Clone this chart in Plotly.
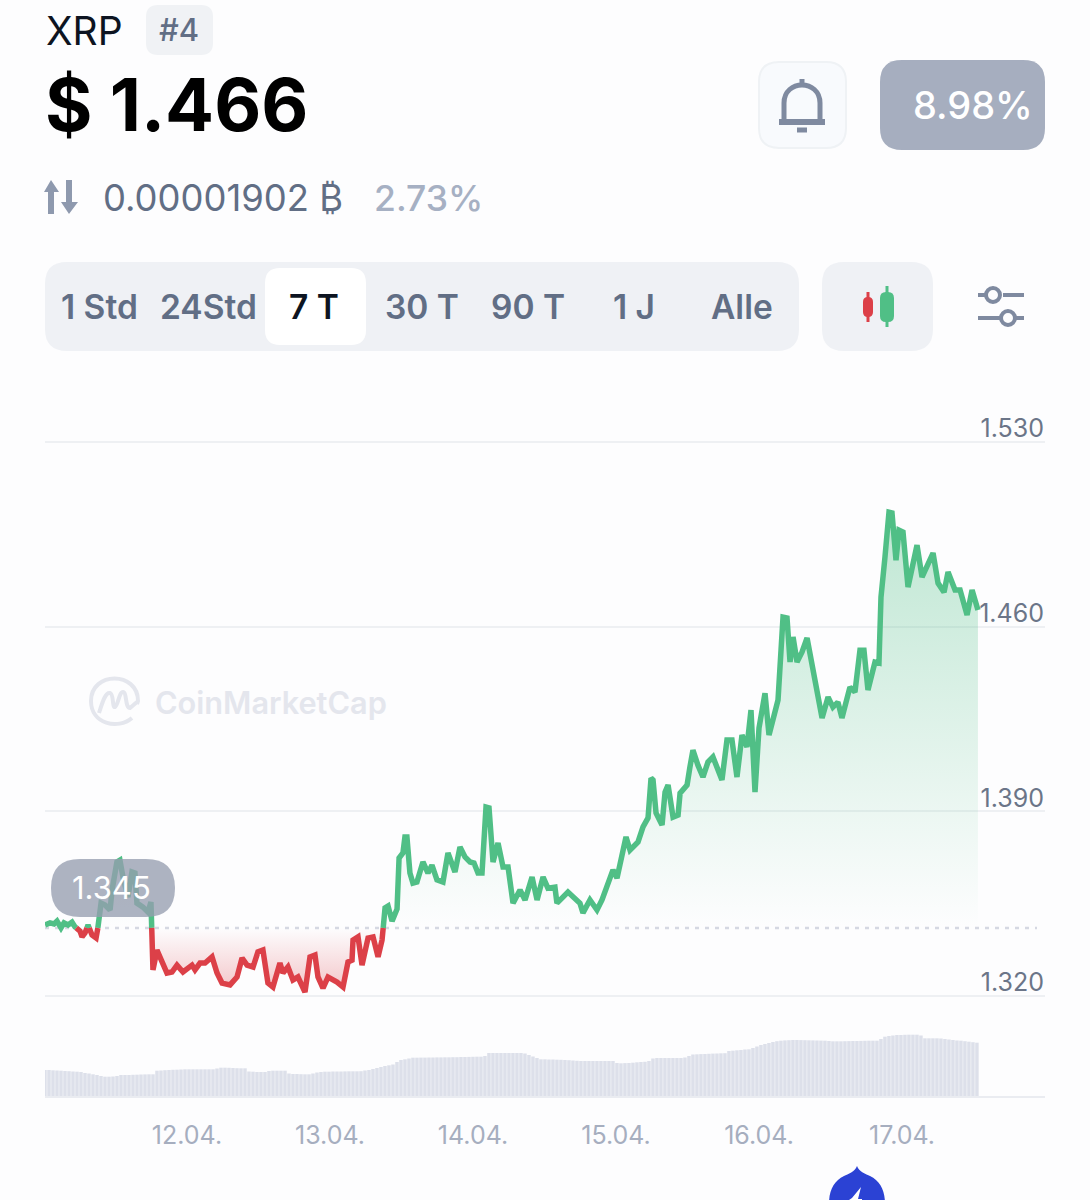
import numpy as np
import plotly.graph_objects as go

# ---- data ----
days = [11.007,11.042,11.070,11.091,11.119,11.140,11.168,11.196,11.217,11.252,11.266,11.287,11.308,11.336,11.364,11.378,11.399,11.427,11.462,11.476,
11.510,11.531,11.552,11.587,11.615,11.636,11.650,11.692,11.727,11.748,11.762,11.790,11.825,11.860,11.895,11.930,11.972,12.035,12.056,12.091,
12.126,12.175,12.210,12.245,12.301,12.350,12.385,12.420,12.462,12.496,12.531,12.566,12.601,12.650,12.671,12.706,12.741,12.776,12.825,12.860,
12.895,12.916,12.951,12.986,13.049,13.091,13.126,13.154,13.161,13.196,13.224,13.266,13.301,13.336,13.364,13.385,13.406,13.434,13.469,13.483,
13.510,13.524,13.538,13.559,13.580,13.608,13.650,13.685,13.713,13.748,13.790,13.825,13.874,13.909,13.944,13.979,14.007,14.035,14.063,14.091,
14.112,14.140,14.175,14.210,14.245,14.280,14.329,14.364,14.413,14.448,14.490,14.524,14.573,14.587,14.629,14.664,14.748,14.769,14.818,14.867,
14.902,14.958,14.979,15.007,15.042,15.070,15.098,15.154,15.189,15.224,15.245,15.259,15.280,15.322,15.343,15.364,15.399,15.434,15.448,15.497,
15.517,15.538,15.573,15.608,15.643,15.678,15.741,15.776,15.811,15.846,15.881,15.916,15.944,15.972,16.000,16.042,16.070,16.133,16.168,16.196,
16.217,16.238,16.266,16.301,16.336,16.392,16.441,16.483,16.517,16.552,16.580,16.636,16.671,16.706,16.734,16.762,16.811,16.839,16.853,16.881,
16.909,16.930,16.958,16.979,17.007,17.042,17.105,17.140,17.182,17.217,17.252,17.294,17.322,17.371,17.406,17.455,17.490,17.531]

prices = [1.3469,1.3477,1.3473,1.3484,1.3458,1.3477,1.3469,1.3480,1.3462,1.3446,1.3424,1.3439,1.3469,1.3431,1.3420,1.3462,1.3552,1.3545,1.3526,1.3602,
1.3708,1.3715,1.3651,1.3575,1.3670,1.3666,1.3552,1.3537,1.3518,1.3556,1.3299,1.3374,1.3336,1.3287,1.3291,1.3317,1.3291,1.3317,1.3299,1.3325,
1.3325,1.3348,1.3287,1.3249,1.3242,1.3272,1.3344,1.3317,1.3310,1.3367,1.3374,1.3249,1.3234,1.3325,1.3287,1.3310,1.3261,1.3272,1.3215,1.3348,
1.3355,1.3272,1.3230,1.3272,1.3253,1.3234,1.3329,1.3336,1.3412,1.3424,1.3317,1.3420,1.3424,1.3348,1.3412,1.3534,1.3541,1.3484,1.3530,1.3723,
1.3742,1.3803,1.3803,1.3666,1.3628,1.3632,1.3708,1.3666,1.3696,1.3640,1.3632,1.3742,1.3670,1.3765,1.3727,1.3708,1.3704,1.3666,1.3666,1.3916,
1.3913,1.3708,1.3780,1.3689,1.3689,1.3552,1.3602,1.3564,1.3651,1.3564,1.3651,1.3609,1.3613,1.3552,1.3575,1.3594,1.3552,1.3515,1.3564,1.3526,
1.3564,1.3640,1.3678,1.3647,1.3742,1.3803,1.3753,1.3784,1.3841,1.3875,1.4026,1.4019,1.3894,1.3848,1.3973,1.4000,1.3878,1.3886,1.3969,1.4000,
1.4068,1.4132,1.4075,1.4030,1.4087,1.4106,1.4019,1.4170,1.4170,1.4030,1.4189,1.4144,1.4284,1.3973,1.4216,1.4348,1.4189,1.4322,1.4636,1.4633,
1.4466,1.4561,1.4466,1.4504,1.4557,1.4409,1.4254,1.4333,1.4295,1.4314,1.4254,1.4371,1.4352,1.4511,1.4511,1.4360,1.4466,1.4462,1.4712,1.4864,
1.5034,1.5031,1.4852,1.4966,1.4959,1.4750,1.4909,1.4788,1.4841,1.4879,1.4765,1.4731,1.4807,1.4739,1.4739,1.4644,1.4739,1.4663]

reference_price = 1.3458

volumes = [26,26,25.7,25.5,25.3,25,24.8,24.5,24.3,24,
23,22.5,21.7,21,20,19.3,19.3,19.5,20,21,
21,21,21.2,21.3,21.5,21.6,21.7,21.7,25.3,25.5,
25.8,26,26.2,26.3,26.5,26.7,26.7,26.7,26.7,26.7,
26.7,26.7,26.7,27.5,28.3,28.3,28.2,28,27.8,27.7,
27.7,24.5,24.3,24,24,24,25,25.3,25.3,25.3,
25.3,22.5,22,22,21.8,21.7,21.7,22.5,23.5,24,
24.3,24.3,24.5,24.5,24.5,24.6,24.7,24.7,24.7,24.8,
25.5,26,27,28,29,30,30.7,31.5,34,36,
36.7,37.5,38.3,38.3,38.4,38.4,38.5,38.5,38.6,38.6,
38.7,38.7,38.8,38.8,39,39,39.1,39.2,39.3,39.3,
40,43,43,43,43,43,43,43,43,43,
42.5,41,39.5,38,36.7,36.7,36.5,36.5,36.3,36.2,
36,35.8,35.5,35.2,35,35,35,35,35,35,
35,35,35,33,32.7,32.9,33,33.3,33.7,34,
34.2,35,37.5,38,38,38,38,38,38,38,
38.5,40,41.5,41.7,41.9,42,42.2,42.4,42.5,42.7,
42.8,45,45.3,45.7,46,46.5,46.7,48,49.5,51,
52,53,54,54.8,55.3,55.6,55.8,56,56,55.9,
55.8,55.7,55.6,55.5,55.4,55.3,55,54.7,54.7,54.7,
54.8,54.9,55,55,55.1,55.2,55.3,55.3,55.3,57,
59.3,60,60.5,61,61,61.2,61.3,61.3,61.3,60.5,
57.7,57.7,57.7,57.7,57.5,57,56.5,56,55.5,55.3,
54.8,54.3,53.8,53.3]

y_ticks = [1.32,1.39,1.46,1.53]
y_labels = ["1.320","1.390","1.460","1.530"]
x_ticks = [12,13,14,15,16,17]
x_labels = ["12.04.","13.04.","14.04.","15.04.","16.04.","17.04."]
tabs = ["1 Std","24Std","7 T","30 T","90 T","1 J","Alle"]

# ---- styling ----
W, H = 1090, 1200
FONT = "Inter"
GREEN = "#50bf86"
RED = "#dc4048"
SLATE = "#616e85"
ICON = "#7f8aa0"
TAB_BG = "#eff1f5"
GRID = "#eef0f3"
BG = "#fdfdfe"

def px(x): return round(x / W, 5)
def py(y): return round(1 - y / H, 5)
def P(x, y): return f"{px(x)},{py(y)}"

def rrect(x0, y0, x1, y1, r):
    return (f"M {P(x0+r,y0)} L {P(x1-r,y0)} Q {P(x1,y0)} {P(x1,y0+r)} L {P(x1,y1-r)} "
            f"Q {P(x1,y1)} {P(x1-r,y1)} L {P(x0+r,y1)} Q {P(x0,y1)} {P(x0,y1-r)} "
            f"L {P(x0,y0+r)} Q {P(x0,y0)} {P(x0+r,y0)} Z")

shapes = []
def add_path(path, fill=None, line=None, lw=0, layer="below"):
    shapes.append(dict(type="path", xref="paper", yref="paper", path=path, layer=layer,
                       fillcolor=fill or "rgba(0,0,0,0)",
                       line=dict(color=line or "rgba(0,0,0,0)", width=lw)))
def add_circle(cx, cy, r, fill=None, line=None, lw=0, layer="below"):
    shapes.append(dict(type="circle", xref="paper", yref="paper", layer=layer,
                       x0=px(cx-r), x1=px(cx+r), y0=py(cy+r), y1=py(cy-r),
                       fillcolor=fill or "rgba(0,0,0,0)",
                       line=dict(color=line or "rgba(0,0,0,0)", width=lw)))
def poly(*pts):
    return "M " + " L ".join(P(*p) for p in pts) + " Z"
def pline(*pts):
    return "M " + " L ".join(P(*p) for p in pts)

annotations = []
def text(x, y, s, size, color, anchor="left", weight=400):
    annotations.append(dict(xref="paper", yref="paper", x=px(x), y=py(y), text=s, showarrow=False,
                            xanchor=anchor, yanchor="middle", borderpad=0,
                            font=dict(family=FONT, size=size, color=color, weight=weight)))

# ---- header ----
text(45, 30, "XRP", 39, "#0d1421")
add_path(rrect(146, 5, 213, 55, 12), fill="#f0f2f5")
text(179, 29, "#4", 31, SLATE, "center", 500)
text(44, 104, "$ 1.466", 72.5, "#000000", "left", 700)
add_path(poly((51,180),(59,192),(54,192),(54,214),(48,214),(48,192),(44,192)), fill="#8e99ae")
add_path(poly((69,214),(61,202),(66,202),(66,180),(72,180),(72,202),(78,202)), fill="#8e99ae")
text(102, 198, "0.00001902 ₿", 36.4, SLATE)
text(373, 198, "2.73%", 35.5, "#a6b0c3", "left", 500)

# bell button
add_path(rrect(759, 62, 846, 148, 20), fill="#f8fafd", line="#eff2f5", lw=2)
add_path(f"M {P(784,120)} L {P(784,103)} C {P(784,79)} {P(820,79)} {P(820,103)} L {P(820,120)}",
         line=ICON, lw=5)
add_path(pline((779,122),(825,122)), line=ICON, lw=6)
add_path(pline((802,79),(802,84)), line=ICON, lw=5)
add_path(pline((797,130),(807,130)), line=ICON, lw=5)

# change pill
add_path(rrect(880, 60, 1045, 150, 22), fill="#a6aebf")
text(1033.5, 105, "8.98%", 38, "#ffffff", "right", 500)

# range tabs
add_path(rrect(45, 262, 799, 351, 22), fill=TAB_BG)
add_path(rrect(265, 268, 366, 345, 15), fill="#ffffff")
for label, cx in zip(tabs, [100, 208, 314, 422, 528, 634, 742]):
    text(cx, 307, label, 33.5, "#0d1421" if label == "7 T" else SLATE, "center", 600)

# candle button
add_path(rrect(822, 262, 933, 351, 22), fill=TAB_BG)
add_path(pline((868,292),(868,322)), line=RED, lw=3)
add_path(rrect(863, 297, 873, 317, 5), fill=RED)
add_path(pline((887,286),(887,327)), line=GREEN, lw=3)
add_path(rrect(880, 292, 894, 322, 6), fill=GREEN)

# filter icon
for seg in [((978,295),(985,295)), ((1003,295),(1024,295)), ((978,318),(1000,318)), ((1016,318),(1024,318))]:
    add_path(pline(*seg), line=ICON, lw=4)
add_circle(993, 295, 7, line=ICON, lw=4)
add_circle(1008, 318, 7, line=ICON, lw=4)

# watermark
WM = "#e4e6ed"
add_path(f"M {P(132,718)} C {P(118,730)} {P(91,724)} {P(91,701)} C {P(91,671)} {P(138,671)} {P(138,701)} L {P(137,704)}",
         line=WM, lw=4)
add_path(f"M {P(99,713)} C {P(103,700)} {P(106,692)} {P(110,693)} C {P(114,694)} {P(112,708)} {P(115,707)} "
         f"C {P(118,706)} {P(119,692)} {P(123,692)} C {P(127,692)} {P(125,708)} {P(130,708)} L {P(137,702)}",
         line=WM, lw=4)
text(154, 703, "CoinMarketCap", 30.7, WM, "left", 600)

# start-price pill (drawn over the line)
add_path(rrect(51, 859, 175, 917, 29), fill="rgba(150,157,175,0.78)", layer="above")
text(112, 887, "1.345", 31, "#ffffff", "center", 400)

# notification pin at the page foot
add_path(f"M {P(857,1166)} C {P(859,1172)} {P(866,1174)} {P(870,1176)} C {P(880,1181)} {P(885,1190)} {P(885,1204)} "
         f"L {P(829,1204)} C {P(829,1190)} {P(834,1181)} {P(844,1176)} C {P(848,1174)} {P(855,1172)} {P(857,1166)} Z",
         fill="#2b42d4", layer="above")
add_path(poly((861,1187),(858,1199),(862,1199),(862,1204),(857,1204),(849,1200),(852,1198)), fill="#ffffff", layer="above")

# ---- split price line at the reference price ----
xs, ys = [], []
for i, (d, p) in enumerate(zip(days, prices)):
    if i and (prices[i-1] - reference_price) * (p - reference_price) < 0:
        t = (reference_price - prices[i-1]) / (p - prices[i-1])
        xs.append(days[i-1] + t * (d - days[i-1]))
        ys.append(reference_price)
    xs.append(d); ys.append(p)
ys_arr = np.array(ys)
green_line = [y if y >= reference_price else None for y in ys]
red_line = [y if y <= reference_price else None for y in ys]

x_end = [days[0], days[-1]]
fig = go.Figure()

def baseline():
    fig.add_trace(go.Scatter(x=x_end, y=[reference_price]*2, mode="lines", line=dict(width=0),
                             hoverinfo="skip", showlegend=False))

baseline()
fig.add_trace(go.Scatter(x=xs, y=np.maximum(ys_arr, reference_price), mode="lines", line=dict(width=0),
                         fill="tonexty", hoverinfo="skip", showlegend=False,
                         fillgradient=dict(type="vertical", start=reference_price, stop=1.5034,
                                           colorscale=[[0, "rgba(80,191,134,0)"], [1, "rgba(80,191,134,0.36)"]])))
baseline()
fig.add_trace(go.Scatter(x=xs, y=np.minimum(ys_arr, reference_price), mode="lines", line=dict(width=0),
                         fill="tonexty", hoverinfo="skip", showlegend=False,
                         fillgradient=dict(type="vertical", start=reference_price, stop=1.3215,
                                           colorscale=[[0, "rgba(220,64,72,0)"], [1, "rgba(220,64,72,0.30)"]])))
# dotted reference line
fig.add_trace(go.Scatter(x=[days[0], 17.944], y=[reference_price]*2, mode="lines",
                         line=dict(color="#d5d8e2", width=2.5, dash="4px,6px"),
                         hoverinfo="skip", showlegend=False))
fig.add_trace(go.Scatter(x=xs, y=green_line, mode="lines", line=dict(color=GREEN, width=5.5),
                         showlegend=False))
fig.add_trace(go.Scatter(x=xs, y=red_line, mode="lines", line=dict(color=RED, width=5.5),
                         showlegend=False))
fig.add_trace(go.Bar(x=days[0] + 0.02797 * np.arange(len(volumes)), y=volumes, yaxis="y2", width=0.0245,
                     marker=dict(color="#dde0ea", line=dict(width=0)), showlegend=False))

PRICE_PER_PX = 0.07 / 184.67
fig.update_layout(
    width=W, height=H, margin=dict(l=0, r=0, t=0, b=0), autosize=False,
    paper_bgcolor=BG, plot_bgcolor="rgba(0,0,0,0)",
    shapes=shapes, annotations=annotations, showlegend=False,
    xaxis=dict(domain=[px(45), px(1045)], range=[11.007, 18.0], anchor="y2",
               tickmode="array", tickvals=x_ticks, ticktext=x_labels,
               ticks="outside", ticklen=16, tickcolor="rgba(0,0,0,0)",
               tickfont=dict(family=FONT, size=25, color="#a6aebf"),
               showgrid=False, zeroline=False, showline=True, linecolor="#eaecf1", linewidth=2),
    yaxis=dict(domain=[py(1010), py(400)], anchor="x", side="right",
               range=[1.32 - 14 * PRICE_PER_PX, 1.53 + 42 * PRICE_PER_PX],
               tickmode="array", tickvals=y_ticks, ticktext=y_labels,
               ticklabelposition="inside top", ticks="",
               ticklabelshift=4, ticklabelstandoff=-2,
               tickfont=dict(family=FONT, size=25, color="#6b7588"),
               showgrid=True, gridcolor=GRID, gridwidth=2, zeroline=False, showline=False),
    yaxis2=dict(domain=[py(1096), py(1030)], anchor="x", range=[0, 66], visible=False),
)

fig.write_html("out.html", config=dict(displayModeBar=False),
               post_script="document.body.style.margin='0';document.body.style.background='#fdfdfe';")
